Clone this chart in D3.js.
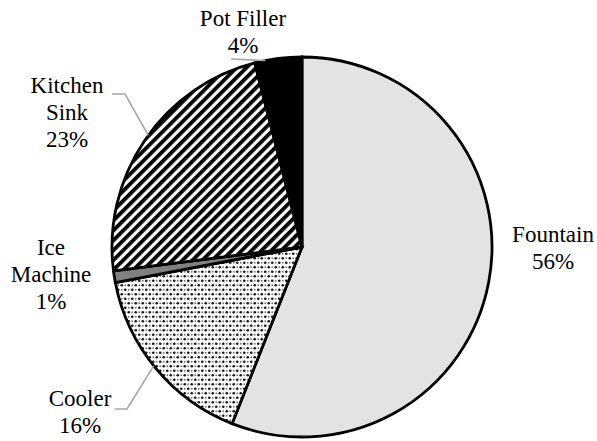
<!DOCTYPE html>
<html>
<head>
<meta charset="utf-8">
<script src="https://cdn.jsdelivr.net/npm/d3@7"></script>
</head>
<body style="margin:0">
<svg id="chart" width="597" height="441"></svg>
<script>
// Share of use by fixture type (percent)
const categories = ["Fountain", "Cooler", "Ice Machine", "Kitchen Sink", "Pot Filler"];
const shares = [56, 16, 1, 23, 4];

// Label lines, one array entry per text line
const labelLines = [
  ["Fountain"],
  ["Cooler"],
  ["Ice", "Machine"],
  ["Kitchen", "Sink"],
  ["Pot Filler"]
];

const cx = 302, cy = 247, radius = 190;
const fontFamily = "Liberation Serif";

const svg = d3.select("#chart");
const defs = svg.append("defs");

// Dotted fill
const dots = defs.append("pattern")
  .attr("id", "pat-dots").attr("patternUnits", "userSpaceOnUse")
  .attr("width", 7).attr("height", 9);
dots.append("rect").attr("width", 7).attr("height", 9).attr("fill", "#fff");
dots.append("circle").attr("cx", 1.75).attr("cy", 2.25).attr("r", 1.35).attr("fill", "#1a1a1a");
dots.append("circle").attr("cx", 5.25).attr("cy", 6.75).attr("r", 1.35).attr("fill", "#1a1a1a");
dots.append("circle").attr("cx", 5.25).attr("cy", 2.25).attr("r", 0.9).attr("fill", "#777");
dots.append("circle").attr("cx", 1.75).attr("cy", 6.75).attr("r", 0.9).attr("fill", "#777");

// Wide diagonal stripes
const stripes = defs.append("pattern")
  .attr("id", "pat-stripes").attr("patternUnits", "userSpaceOnUse")
  .attr("width", 7).attr("height", 7)
  .attr("patternTransform", "rotate(45)");
stripes.append("rect").attr("width", 7).attr("height", 7).attr("fill", "#fff");
stripes.append("rect").attr("width", 3.8).attr("height", 7).attr("fill", "#000");

const fills = {
  "Fountain": "#e3e3e3",
  "Cooler": "url(#pat-dots)",
  "Ice Machine": "#808080",
  "Kitchen Sink": "url(#pat-stripes)",
  "Pot Filler": "#000"
};

const data = categories.map((c, i) => ({ name: c, value: shares[i], lines: labelLines[i] }));

const pie = d3.pie().value(d => d.value).sort(null).startAngle(0).endAngle(2 * Math.PI);
const arc = d3.arc().innerRadius(0).outerRadius(radius);
const arcs = pie(data);

const g = svg.append("g").attr("transform", `translate(${cx},${cy})`);
g.selectAll("path.slice")
  .data(arcs)
  .join("path")
  .attr("class", "slice")
  .attr("d", arc)
  .attr("fill", d => fills[d.data.name])
  .attr("stroke", "#000")
  .attr("stroke-width", 2.8)
  .attr("stroke-linejoin", "miter");

// Label placement (text centre x, first baseline y) and leader lines
const labelLayout = {
  "Fountain":     { x: 553, y: 242 },
  "Cooler":       { x: 80,  y: 406 },
  "Ice Machine":  { x: 51,  y: 255 },
  "Kitchen Sink": { x: 67,  y: 93 },
  "Pot Filler":   { x: 243, y: 26 }
};
const leaders = {
  "Kitchen Sink": { points: [[112, 94], [125, 94]], angle: 306 },
  "Cooler":       { points: [[115, 409], [127, 409]], angle: 231.3 },
  "Pot Filler":   { points: [[231, 59]], angle: 348.9 }
};

const lineHeight = 27;
const fmt = v => v + "%";

Object.entries(leaders).forEach(([name, l]) => {
  const p = d3.pointRadial(l.angle * Math.PI / 180, radius);
  const pts = l.points.concat([[cx + p[0], cy + p[1]]]);
  svg.append("path")
    .attr("d", d3.line()(pts))
    .attr("fill", "none")
    .attr("stroke", "#a6a6a6")
    .attr("stroke-width", 1.6);
});

// One text element per label line
data.forEach(d => {
  const pos = labelLayout[d.name];
  const lines = d.lines.concat([fmt(d.value)]);
  lines.forEach((s, i) => {
    svg.append("text")
      .attr("x", pos.x)
      .attr("y", pos.y + i * lineHeight)
      .attr("text-anchor", "middle")
      .attr("font-family", fontFamily)
      .attr("font-size", 23)
      .text(s);
  });
});
</script>
</body>
</html>
